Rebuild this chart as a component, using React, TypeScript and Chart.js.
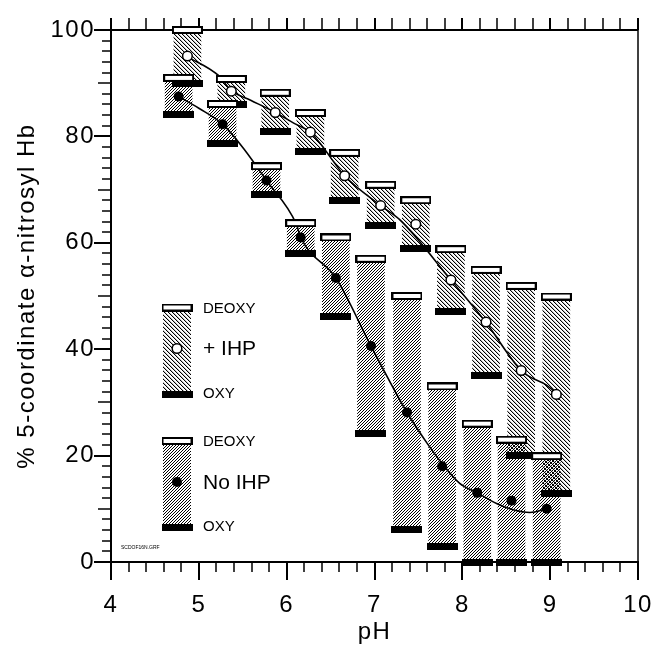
import React, { useEffect, useRef } from 'react';
import { Chart, registerables } from 'chart.js';

Chart.register(...registerables);

// ---------- data ----------
// + IHP (open circles)
const IHP_PH = [4.87, 5.37, 5.87, 6.27, 6.66, 7.07, 7.47, 7.87, 8.27, 8.67, 9.07];
const IHP_DEOXY = [100, 90.8, 88.2, 84.4, 76.9, 70.9, 68.0, 58.8, 54.9, 51.9, 49.9];
const IHP_OXY = [90.0, 86.0, 81.0, 77.1, 67.9, 63.2, 59.0, 47.0, 35.1, 20.0, 12.9];
const IHP_VAL = [95.1, 88.5, 84.5, 80.8, 72.6, 67.0, 63.5, 53.0, 45.1, 36.0, 31.5];
// fitted curve (+ IHP)
const IHP_FIT_PH = [4.87, 5.22, 5.37, 5.59, 5.87, 6.08, 6.27, 6.38, 6.66, 7.07, 7.29, 7.87, 8.27, 8.67, 9.07, 9.1];
const IHP_FIT_V = [95.0, 91.5, 88.6, 86.8, 84.5, 82.5, 80.8, 78.7, 72.6, 67.0, 64.3, 53.0, 45.0, 36.0, 31.5, 30.5];

// No IHP (filled circles)
const NO_PH = [4.77, 5.27, 5.77, 6.16, 6.56, 6.96, 7.37, 7.77, 8.17, 8.56, 8.96];
const NO_DEOXY = [91.0, 86.1, 74.4, 63.7, 61.0, 57.0, 50.0, 33.0, 26.0, 23.0, 19.9];
const NO_OXY = [84.1, 78.6, 69.0, 58.0, 46.2, 24.1, 6.2, 3.0, 0, 0, 0];
const NO_VAL = [87.5, 82.3, 71.7, 61.0, 53.4, 40.6, 28.1, 18.0, 13.0, 11.5, 10.0];
// fitted curve (No IHP)
const NO_FIT_PH = [4.77, 5.0, 5.27, 5.52, 5.77, 6.11, 6.16, 6.56, 6.96, 7.37, 7.6, 7.77, 7.97, 8.17, 8.39, 8.56, 8.77, 8.96];
const NO_FIT_V = [87.5, 85.3, 82.3, 77.5, 71.7, 63.5, 61.0, 53.4, 40.6, 28.1, 22.3, 18.5, 14.8, 13.0, 11.0, 9.9, 9.3, 10.0];

// axis tick labels
const X_TICKS = [4, 5, 6, 7, 8, 9, 10];
const Y_TICKS = [0, 20, 40, 60, 80, 100];

const FONT = "'Liberation Sans', Arial, Helvetica, sans-serif";

function makeHatch(ctx: CanvasRenderingContext2D, n: number, forward: boolean, extra: number) {
  const t = document.createElement('canvas');
  t.width = n;
  t.height = n;
  const g = t.getContext('2d')!;
  const img = g.createImageData(n, n);
  for (let i = 0; i < n; i++) {
    const x = i;
    const y = forward ? n - 1 - i : i;
    const p = (y * n + x) * 4;
    img.data[p + 3] = 255;
    if (extra > 0) {
      const x2 = (x + 1) % n;
      const p2 = (y * n + x2) * 4;
      img.data[p2 + 3] = extra;
    }
  }
  g.putImageData(img, 0, 0);
  return ctx.createPattern(t, 'repeat')!;
}

function makeCap(w: number, h: number, white: boolean) {
  const c = document.createElement('canvas');
  c.width = w;
  c.height = h;
  const g = c.getContext('2d')!;
  g.fillStyle = '#000';
  g.fillRect(0, 0, w, h);
  if (white) {
    g.fillStyle = '#fff';
    g.fillRect(2, 2, w - 4, h - 4);
  }
  return c;
}

export default function App() {
  const ref = useRef<HTMLCanvasElement>(null);

  useEffect(() => {
    document.body.style.margin = '0';
    const canvas = ref.current!;
    const ctx = canvas.getContext('2d')!;
    const hatchIHP = makeHatch(ctx, 4, false, 60);
    const hatchNo = makeHatch(ctx, 3, true, 0);
    const whiteCap = makeCap(31, 8, true);
    const blackCap = makeCap(31, 7, false);

    const spacingPlugin = {
      id: 'spacing',
      beforeDraw(chart: any) {
        (chart.ctx as any).letterSpacing = '1.5px';
      },
      beforeDatasetsDraw(chart: any) {
        (chart.ctx as any).letterSpacing = '0px';
      },
    };

    const framePlugin = {
      id: 'frame',
      beforeDatasetsDraw(chart: any) {
        const { ctx: c, chartArea: a, scales } = chart;
        const x = scales.x;
        const y = scales.y;
        c.save();
        c.strokeStyle = '#000';
        c.lineCap = 'butt';
        c.lineWidth = 2;
        c.beginPath();
        c.moveTo(a.left, a.bottom);
        c.lineTo(a.left, a.top);
        c.lineTo(a.right, a.top);
        c.moveTo(a.left - 1, a.bottom);
        c.lineTo(a.right + 1, a.bottom);
        c.stroke();
        c.lineWidth = 1.5;
        c.beginPath();
        c.moveTo(a.right, a.top);
        c.lineTo(a.right, a.bottom);
        c.stroke();
        // x ticks (every 0.2)
        for (let k = 0; k <= 30; k++) {
          const v = 4 + k * 0.2;
          const px = Math.round(x.getPixelForValue(v));
          const major = k % 5 === 0;
          c.lineWidth = major ? 2 : 1.5;
          c.beginPath();
          c.moveTo(px, a.bottom);
          c.lineTo(px, a.bottom + (major ? 18 : 10));
          c.moveTo(px, a.top);
          c.lineTo(px, a.top - 12);
          c.stroke();
        }
        // y ticks (every 2)
        for (let k = 0; k <= 50; k++) {
          const v = k * 2;
          const py = Math.round(y.getPixelForValue(v));
          const len = v % 20 === 0 ? 17 : v % 10 === 0 ? 13 : 9;
          c.lineWidth = v % 20 === 0 ? 2 : 1.5;
          c.beginPath();
          c.moveTo(a.left, py);
          c.lineTo(a.left - len, py);
          c.stroke();
        }
        c.restore();
      },
    };

    const legendPlugin = {
      id: 'customLegend',
      afterDatasetsDraw(chart: any) {
        const { ctx: c, chartArea: a } = chart;
        const cx = a.left + 66;
        const tx = a.left + 92;
        c.save();
        const block = (top: number, pattern: CanvasPattern, filled: boolean, label: string) => {
          c.fillStyle = pattern;
          c.fillRect(cx - 14, top + 4, 28, 82);
          c.drawImage(whiteCap, cx - 15.5, top - 4);
          c.drawImage(blackCap, cx - 15.5, top + 83);
          c.beginPath();
          c.arc(cx, top + 41, filled ? 5 : 4.8, 0, Math.PI * 2);
          c.fillStyle = filled ? '#000' : '#fff';
          c.fill();
          if (!filled) {
            c.lineWidth = 1.5;
            c.strokeStyle = '#000';
            c.stroke();
          }
          c.fillStyle = '#000';
          c.textAlign = 'left';
          c.textBaseline = 'middle';
          c.font = `15px ${FONT}`;
          c.fillText('DEOXY', tx, top + 1);
          c.fillText('OXY', tx, top + 86);
          c.font = `21px ${FONT}`;
          c.fillText(label, tx, top + 42);
        };
        block(a.top + 277.5, hatchIHP, false, '+ IHP');
        block(a.top + 411, hatchNo, true, 'No IHP');
        c.font = `5px ${FONT}`;
        c.textAlign = 'left';
        c.fillStyle = '#000';
        c.fillText('SCDOF16N.GRF', a.left + 10, a.top + 518);
        c.restore();
      },
    };

    const xy = (xs: number[], ys: number[]) => xs.map((x, i) => ({ x, y: ys[i] }));
    const range = (xs: number[], lo: number[], hi: number[]) =>
      xs.map((x, i) => ({ x, y: [lo[i], hi[i]] }));

    const chart = new Chart(canvas, {
      type: 'bar',
      data: {
        datasets: [
          {
            type: 'bar',
            data: range(IHP_PH, IHP_OXY, IHP_DEOXY) as any,
            backgroundColor: hatchIHP as any,
            borderWidth: 0,
            barThickness: 27,
            grouped: false,
            order: 10,
          },
          {
            type: 'bar',
            data: range(NO_PH, NO_OXY, NO_DEOXY) as any,
            backgroundColor: hatchNo as any,
            borderWidth: 0,
            barThickness: 27,
            grouped: false,
            order: 9,
          },
          {
            type: 'line',
            data: xy(IHP_FIT_PH, IHP_FIT_V),
            borderColor: '#000',
            borderWidth: 1.6,
            pointRadius: 0,
            fill: false,
            cubicInterpolationMode: 'monotone',
            order: 8,
          },
          {
            type: 'line',
            data: xy(NO_FIT_PH, NO_FIT_V),
            borderColor: '#000',
            borderWidth: 1.6,
            pointRadius: 0,
            fill: false,
            cubicInterpolationMode: 'monotone',
            order: 7,
          },
          {
            type: 'scatter',
            data: [...xy(IHP_PH, IHP_OXY), ...xy(NO_PH, NO_OXY)],
            pointStyle: blackCap as any,
            pointRadius: 4,
            pointHoverRadius: 4,
            clip: false as any,
            order: 6,
          },
          {
            type: 'scatter',
            data: [...xy(IHP_PH, IHP_DEOXY), ...xy(NO_PH, NO_DEOXY)],
            pointStyle: whiteCap as any,
            pointRadius: 4,
            pointHoverRadius: 4,
            clip: false as any,
            order: 5,
          },
          {
            type: 'scatter',
            data: xy(IHP_PH, IHP_VAL),
            pointStyle: 'circle',
            pointRadius: 4.8,
            pointHoverRadius: 4.8,
            backgroundColor: '#fff',
            borderColor: '#000',
            borderWidth: 1.5,
            order: 2,
          },
          {
            type: 'scatter',
            data: xy(NO_PH, NO_VAL),
            pointStyle: 'circle',
            pointRadius: 5,
            pointHoverRadius: 5,
            backgroundColor: '#000',
            borderColor: '#000',
            borderWidth: 0,
            order: 1,
          },
        ] as any,
      },
      options: {
        responsive: false,
        animation: false,
        devicePixelRatio: 1,
        events: [],
        layout: { padding: { left: 0, right: 16, top: 30, bottom: 0 } },
        plugins: {
          legend: { display: false },
          tooltip: { enabled: false },
        },
        scales: {
          x: {
            type: 'linear',
            min: 4,
            max: 10,
            offset: false,
            grid: { display: false, drawTicks: false },
            border: { display: false },
            afterBuildTicks: (s: any) => {
              s.ticks = X_TICKS.map((v) => ({ value: v }));
            },
            afterFit: (s: any) => {
              s.height = 85;
              s.paddingLeft = 0;
              s.paddingRight = 0;
            },
            ticks: {
              color: '#000',
              padding: 28.5,
              maxRotation: 0,
              autoSkip: false,
              font: { family: FONT, size: 24 },
            },
            title: {
              display: true,
              text: 'pH',
              color: '#000',
              font: { family: FONT, size: 24 },
              padding: { top: 0, bottom: 0 },
            },
          },
          y: {
            type: 'linear',
            min: 0,
            max: 100,
            grid: { display: false, drawTicks: false },
            border: { display: false },
            afterBuildTicks: (s: any) => {
              s.ticks = Y_TICKS.map((v) => ({ value: v }));
            },
            afterFit: (s: any) => {
              s.width = 111;
              s.paddingTop = 0;
              s.paddingBottom = 0;
            },
            ticks: {
              color: '#000',
              padding: 16,
              autoSkip: false,
              font: { family: FONT, size: 24 },
            },
            title: {
              display: true,
              text: '% 5-coordinate \u03b1-nitrosyl Hb',
              color: '#000',
              font: { family: FONT, size: 24 },
              padding: { top: 12.5, bottom: 0 },
            },
          },
        },
      } as any,
      plugins: [spacingPlugin, framePlugin, legendPlugin],
    });

    return () => chart.destroy();
  }, []);

  return (
    <div style={{ width: 654, height: 647 }}>
      <canvas ref={ref} width={654} height={647} style={{ display: 'block' }} />
    </div>
  );
}
